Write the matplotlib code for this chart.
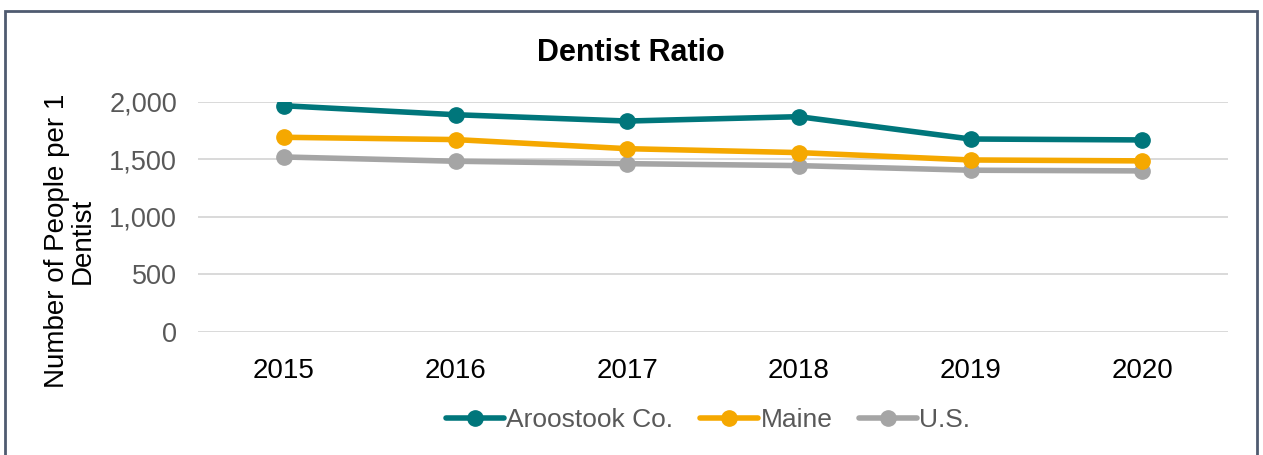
import matplotlib
matplotlib.use("Agg")
import matplotlib.pyplot as plt
from matplotlib.patches import Rectangle

plt.rcParams['font.family'] = ['Liberation Sans', 'DejaVu Sans']

years = ["2015", "2016", "2017", "2018", "2019", "2020"]
aroostook = [1965, 1887, 1832, 1870, 1676, 1668]
maine = [1691, 1671, 1592, 1558, 1494, 1486]
us = [1520, 1483, 1462, 1445, 1405, 1399]
yticks = [0, 500, 1000, 1500, 2000]
ytick_labels = ["0", "500", "1,000", "1,500", "2,000"]

W, H = 1263, 455
fig = plt.figure(figsize=(W / 100, H / 100), dpi=100)
ax = fig.add_axes([198 / W, 1 - 332 / H, (1228 - 198) / W, (332 - 101.7) / H])

x = list(range(len(years)))
series = [("Aroostook Co.", aroostook, "#00767B"),
          ("Maine", maine, "#F5A800"),
          ("U.S.", us, "#A5A5A5")]
handles = []
for i, (name, vals, col) in enumerate(series):
    h, = ax.plot(x, vals, color=col, lw=4, marker='o', ms=11,
                 solid_capstyle='round', zorder=5 - i, label=name)
    handles.append(h)

ax.set_xlim(-0.5, len(years) - 0.5)
ax.set_ylim(0, 2000)
ax.set_yticks(yticks)
ax.set_yticklabels(ytick_labels)
ax.set_xticks(x)
ax.set_xticklabels(years)
ax.grid(axis='y', color='#D9D9D9', lw=1.4, zorder=0)
ax.set_axisbelow(True)
for s in ax.spines.values():
    s.set_visible(False)
ax.tick_params(axis='y', length=0, pad=15, labelsize=19.5, labelcolor='#595959')
ax.tick_params(axis='x', length=0, pad=19, labelsize=20, labelcolor='#000000')

fig.text(631 / W, 1 - 53 / H, "Dentist Ratio", ha='center', va='center',
         fontsize=22, fontweight='bold')
fig.text(70 / W, 1 - 241 / H, "Number of People per 1\nDentist", rotation=90,
         ha='center', va='center', multialignment='center', fontsize=20,
         linespacing=0.95)

leg = fig.legend(handles=handles, loc='center', bbox_to_anchor=(708 / W, 1 - 420 / H),
                 ncol=3, frameon=False, fontsize=19, handlelength=2.2,
                 handletextpad=0.1, columnspacing=1.0, labelcolor='#595959')

fig.patches.append(Rectangle((5 / W, -0.05), (1257 - 5) / W, 1.05 - 11 / H,
                             transform=fig.transFigure, fill=False,
                             edgecolor='#4F5B70', lw=2))

fig.savefig("out.png", dpi=100)
